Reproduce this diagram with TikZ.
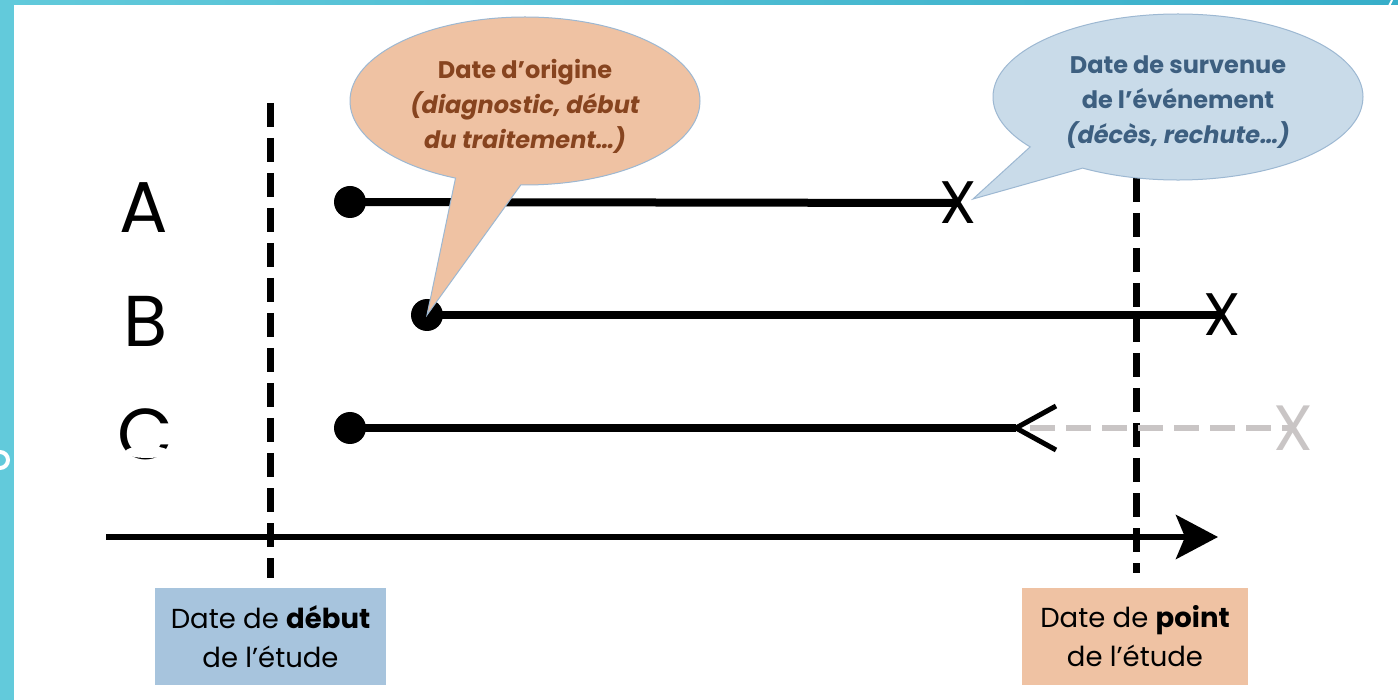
\documentclass[tikz,border=0pt]{standalone}
\usepackage{fontspec}
\setmainfont{Poppins}
\usetikzlibrary{shapes.callouts,arrows.meta}
\definecolor{teal1}{HTML}{62CADB}
\definecolor{teal2}{HTML}{37AEC9}
\definecolor{orfill}{HTML}{EFC2A3}
\definecolor{blfill}{HTML}{C9DBE9}
\definecolor{boxblue}{HTML}{A7C4DD}
\definecolor{ortext}{HTML}{87441F}
\definecolor{bltext}{HTML}{3D5F80}
\definecolor{rim}{HTML}{9DB8D2}
\definecolor{ghost}{HTML}{C9C5C5}
\tikzset{
  dotnode/.style={circle,fill=black,minimum size=32pt,inner sep=0pt},
  row/.style={line width=8pt},
  vdash/.style={line width=7pt,dash pattern=on 24pt off 11pt},
  rowlab/.style={font=\fontsize{72}{72}\selectfont,inner sep=0pt},
  xmark/.style={font=\fontsize{60}{60}\selectfont,inner sep=0pt},
  bubble/.style={ellipse callout,draw=rim,line width=1pt,inner sep=0pt,callout pointer arc=22},
  bubtext/.style={inner sep=0pt,align=center,font=\fontsize{24}{35}\selectfont\bfseries},
  datebox/.style={minimum width=231pt,minimum height=97pt,inner sep=0pt,align=center,
     font=\fontsize{27.5}{39}\selectfont},
}
\begin{document}
\begin{tikzpicture}[x=1pt,y=-1pt]
\useasboundingbox (0,0) rectangle (1398,700);
\fill[white] (0,0) rectangle (1398,700);
% frame
\shade[left color=teal1,right color=teal2] (0,0) rectangle (1398,5);
\fill[teal1] (0,0) rectangle (14,700);
\begin{scope}
\clip (0,0) rectangle (14,700);
\draw[white,line width=4pt] (0,460) circle (8);
\end{scope}
\draw[white,line width=2pt] (1392,0) .. controls (1389,6) .. (1386,14);

% vertical dashed lines
\coordinate (l1t) at (270,103);
\coordinate (l1b) at (270,578);
\coordinate (l2t) at (1136,178);
\coordinate (l2b) at (1136,573);
\draw[vdash] (l1t) -- (l1b);
\draw[vdash] (l2t) -- (l2b);

% axis
\coordinate (ax0) at (106,537);
\coordinate (ax1) at (1218,537);
\draw[line width=6pt,-{Stealth[length=42pt,width=44pt,inset=9pt]}] (ax0) -- (ax1);

% row labels
\node[rowlab] (la) at (144,208) {A};
\node[rowlab] (lb) at (146,321) {B};
\node[rowlab] (lc) at (145,434) {C};
\fill[white] (147,452) ellipse (22 and 6);

% row A
\node[dotnode] (da) at (350,202) {};
\node[xmark] (xa) at (958,203) {X};
\draw[row] (da.center) -- (xa.center);
% row B
\node[dotnode] (db) at (427,315) {};
\node[xmark] (xb) at (1222,315) {X};
\draw[row] (db.center) -- (xb.center);
% row C
\node[dotnode] (dc) at (350,428) {};
\node[xmark,text=ghost,font=\fontsize{64}{64}\selectfont] (xc) at (1293,428) {X};
\coordinate (ctip) at (1016,428);
\coordinate (cu) at (1056,406);
\coordinate (cd) at (1056,450);
\draw[line width=6pt,ghost,dash pattern=on 25pt off 11pt] (1030,428) -- (xc.center);
\draw[row] (dc.center) -- (ctip);
\draw[line width=5pt,line join=miter] (cu) -- (ctip) -- (cd);

% callouts
\node[bubble,fill=orfill,minimum width=350pt,minimum height=168pt,
      callout absolute pointer={(db.center)}] (co) at (525,101) {};
\node[bubtext,text=ortext] (cot) at (525,106)
  {Date d’origine\\\itshape (diagnostic, début\\\itshape du traitement…)};
\node[bubble,fill=blfill,minimum width=370pt,minimum height=166pt,
      callout absolute pointer={(973,199)}] (cb) at (1178,97) {};
\node[bubtext,text=bltext] (cbt) at (1178,102)
  {Date de survenue\\de l’événement\\\itshape (décès, rechute…)};

% boxes
\node[datebox,fill=boxblue] (bx1) at (270.5,636.5) {Date de \textbf{début}\\de l’étude};
\node[datebox,fill=orfill,minimum width=226pt] (bx2) at (1135,636.5) {Date de \textbf{point}\\de l’étude};
\end{tikzpicture}
\end{document}
